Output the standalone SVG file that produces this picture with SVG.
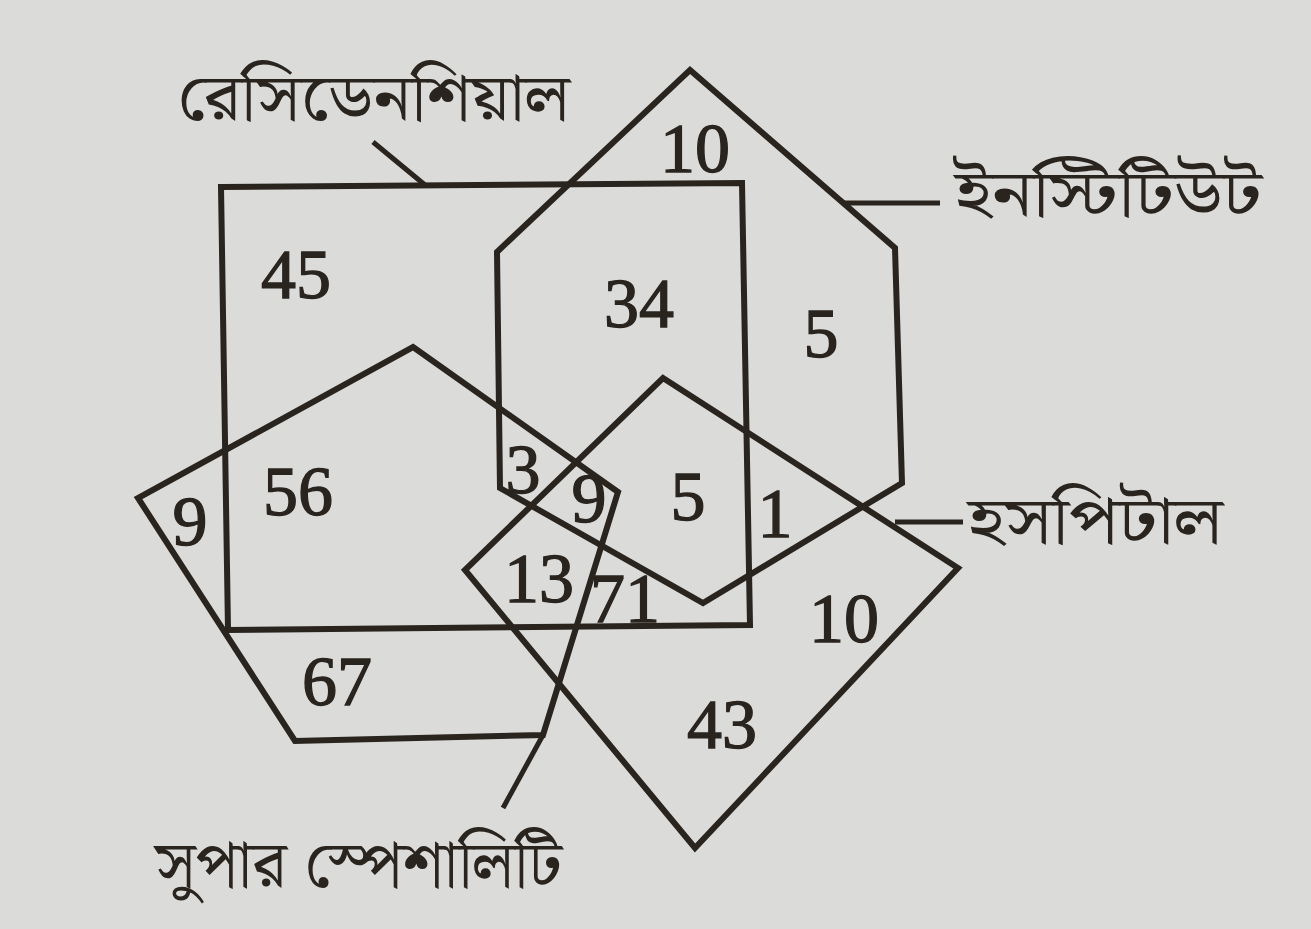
<svg xmlns="http://www.w3.org/2000/svg" width="1311" height="929" viewBox="0 0 1311 929">
  <style>
    .shape { fill: none; stroke: #2a241f; stroke-width: 6; stroke-linejoin: miter; }
    .lead { fill: none; stroke: #2a241f; stroke-width: 5; }
    .num { font-family: "Liberation Serif", "DejaVu Serif", serif; font-size: 70px; fill: #2a241f; stroke: #2a241f; stroke-width: 1.3; text-anchor: middle; }
    .lbl { font-family: "Noto Serif Bengali", "Noto Sans Bengali", "Lohit Bengali", "FreeSerif", "Noto Sans", sans-serif; font-size: 66px; fill: #2a241f; }
  </style>
  <rect x="0" y="0" width="1311" height="929" fill="#dbdbd9"/>

  <g id="residential">
    <polygon class="shape" points="221,187 742,183 750,625 228,630"/>
    <text class="lbl" x="177" y="120" textLength="393" lengthAdjust="spacingAndGlyphs">রেসিডেনশিয়াল</text>
  </g>

  <g id="institute">
    <polygon class="shape" points="690,70 895,248 902,483 703,603 500,488 497,252"/>
    <text class="lbl" x="955" y="216" textLength="307" lengthAdjust="spacingAndGlyphs">ইনস্টিটিউট</text>
  </g>

  <g id="hospital">
    <polygon class="shape" points="663,378 958,568 695,848 465,570"/>
    <text class="lbl" x="968" y="543" textLength="255" lengthAdjust="spacingAndGlyphs">হসপিটাল</text>
  </g>

  <g id="superspeciality">
    <polygon class="shape" points="413,347 618,492 543,735 295,741 138,498"/>
    <text class="lbl" x="155" y="887" textLength="407" lengthAdjust="spacingAndGlyphs">সুপার স্পেশালিটি</text>
  </g>

  <g id="connectors">
    <line class="lead" x1="373" y1="142" x2="425" y2="185"/>
    <line class="lead" x1="843" y1="203" x2="940" y2="203"/>
    <line class="lead" x1="895" y1="522" x2="963" y2="522"/>
    <line class="lead" x1="543" y1="735" x2="503" y2="808"/>
  </g>

  <g id="numbers">
    <text class="num" x="695" y="172">10</text>
    <text class="num" x="296" y="298">45</text>
    <text class="num" x="639" y="327">34</text>
    <text class="num" x="821" y="357">5</text>
    <text class="num" x="190" y="545">9</text>
    <text class="num" x="298" y="515">56</text>
    <text class="num" x="523" y="493">3</text>
    <text class="num" x="589" y="522">9</text>
    <text class="num" x="688" y="520">5</text>
    <text class="num" x="775" y="537">1</text>
    <text class="num" x="539" y="602">13</text>
    <text class="num" x="625" y="622">71</text>
    <text class="num" x="844" y="642">10</text>
    <text class="num" x="722" y="748">43</text>
    <text class="num" x="337" y="705">67</text>
  </g>
</svg>
